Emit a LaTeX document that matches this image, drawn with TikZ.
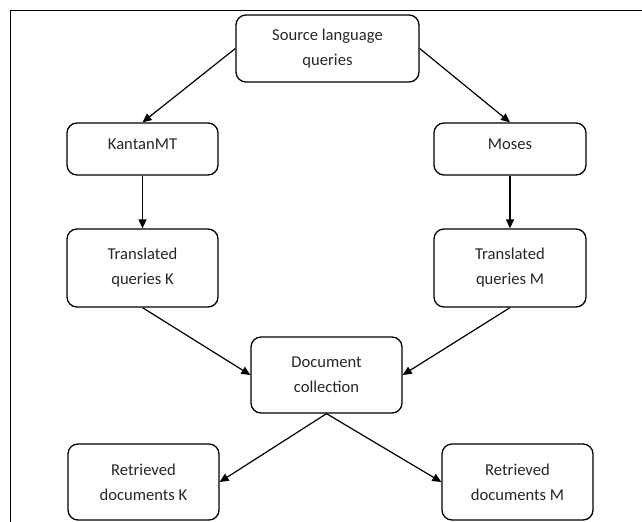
\documentclass[tikz,border=0pt]{standalone}
\usepackage{fontspec}
\setmainfont{Carlito}
\usetikzlibrary{arrows.meta}
\begin{document}
\begin{tikzpicture}[x=1bp,y=-1bp,
  box/.style={draw=black, line width=1.3bp, rounded corners=10bp, inner sep=0pt,
    align=center, text=black!85, font=\fontsize{16.6bp}{25bp}\selectfont},
  onebox/.style={box, text height=27bp, text depth=25bp},
  arr/.style={line width=1.2bp, -{Triangle[length=9bp,width=8bp]}}
]
\useasboundingbox (0,0) rectangle (642,522);
\draw[line width=1bp] (10,522) -- (10,11) -- (642,11);

\node[box, minimum width=183bp, minimum height=67bp] (src) at (327.5,48.5) {Source language\\queries};
\node[onebox, minimum width=151bp] (kan) at (142.5,149) {KantanMT};
\node[onebox, minimum width=152bp] (mos) at (510,149) {Moses};
\node[box, minimum width=151bp, minimum height=78bp] (tk) at (142.5,268) {Translated\\queries K};
\node[box, minimum width=152bp, minimum height=78bp] (tm) at (510,268) {Translated\\queries M};
\node[box, minimum width=151bp, minimum height=76bp] (doc) at (326.5,375) {Document\\collection};
\node[box, minimum width=151bp, minimum height=76bp] (rk) at (143.5,482) {Retrieved\\documents K};
\node[box, minimum width=151bp, minimum height=76bp] (rm) at (517.5,482) {Retrieved\\documents M};

\draw[arr] (src.west) -- (kan.north);
\draw[arr] (src.east) -- (mos.north);
\draw[arr] (kan.south) -- (tk.north);
\draw[arr] (mos.south) -- (tm.north);
\draw[arr] (tk.south) -- (doc.west);
\draw[arr] (tm.south) -- (doc.east);
\draw[arr] (doc.south) -- (rk.east);
\draw[arr] (doc.south) -- (rm.west);
\end{tikzpicture}
\end{document}
